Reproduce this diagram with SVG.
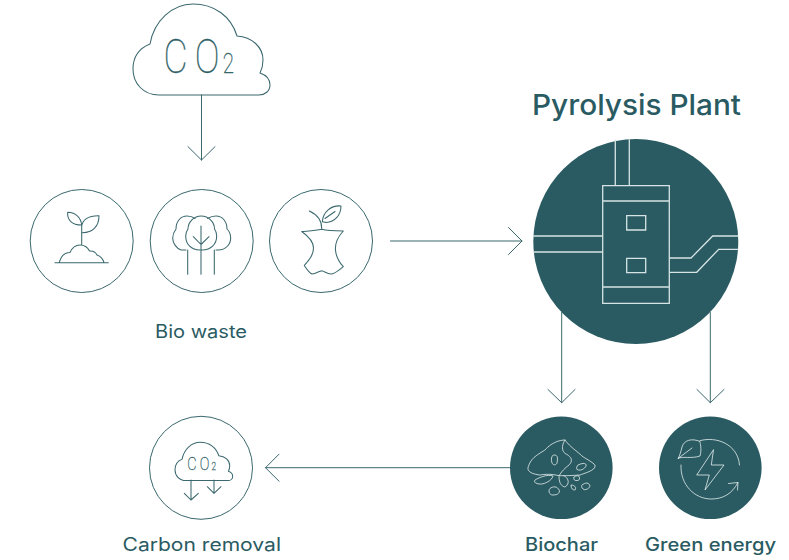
<svg xmlns="http://www.w3.org/2000/svg" xmlns:xlink="http://www.w3.org/1999/xlink" width="789" height="560" viewBox="0 0 789 560">
<style>
.l{fill:none;stroke:#3a686e;stroke-width:1;stroke-linecap:round;stroke-linejoin:round}
.ic{fill:none;stroke:#3a686e;stroke-width:1.050;stroke-linecap:round;stroke-linejoin:round}
.w{fill:none;stroke:#d6e4e5;stroke-width:1.3;stroke-linejoin:miter}
.t{fill:none;stroke:#e4eeee;stroke-width:.8;stroke-linecap:round;stroke-linejoin:round}
.ring{fill:#fff;stroke:#3a686e;stroke-width:1}
.dark{fill:#2a5b62}
.lab{font-family:"Inter","Noto Sans",sans-serif;fill:#2a5b62;text-anchor:start}
.co{font-family:"Roboto","Liberation Sans",sans-serif;font-weight:100;fill:#2f5f66;stroke:#2f5f66;stroke-width:.35}
</style>
<defs>
<path id="cloud" d="M159 95C143 95 133 83 133 69C133 56 140 48 150 44C154 21 172 4 193 4C214 4 231 16 237 36C252 37 263 47 263 60C263 65 262 69 260 73C266 75 270 79 270 85C270 91 265 95 259 95Z"/>
</defs>
<g id="connectors">
<path class="l" d="M201.500 95V160M188 146.700L201.500 160L215 146.700"/>
<path class="l" d="M390.500 241H522M508.500 227.500L522 241L508.500 254.500"/>
<path class="l" d="M561.700 312.500V402.700M548 389.500L561.700 402.700L575 389.500"/>
<path class="l" d="M710.300 312.500V402.700M697 389.500L710.300 402.700L724 389.500"/>
<path class="l" d="M510 467.700H265.500M279 454.200L265.500 467.700L279 481.200"/>
</g>
<g id="co2-source">
<use href="#cloud" class="ic"/>
<text class="co" transform="translate(163.500 73) scale(.76 1)" font-size="49" x="0 41">CO<tspan x="78" font-size="27">2</tspan></text>
</g>
<g id="bio-sprout">
<circle class="ring" cx="81.700" cy="241" r="51.500"/>
<path class="ic" d="M55 262.700H108.300M59.300 262.700C61 256 65 252.500 70 252.500C72 248 76 245 80 245C85 245 88 248 89.500 251C94 250.500 96 253 97 255C100 256 103 259 104 262.700M81.700 245V225C81 218 76 212.300 67.700 212.300C67 220 72 225 81.700 225M81.700 232.700C93 233 99 226 99 215.700C88 215.500 82 220 81.700 227"/>
</g>
<g id="bio-trees">
<circle class="ring" cx="201.700" cy="241" r="51.500"/>
<path class="ic" d="M201 226V274.300M187.700 250V274.300M214.300 250V274.300M193.300 236.700L201 244.500L209 236.700M201.200 250C191 250.500 185.700 244 185.700 236C185.700 233 186.500 231 188 229C188 222 194 216 201.200 216C208.500 216 214.500 222 214.500 229C216 231 216.700 233 216.700 236C216.700 244 211 250.500 201.200 250ZM186 250H181C176 248 172.700 243 172.700 238C172.700 233.500 174.500 231 176 229C176 221 181 216 187 216C190 216 193 217 195 218.500M207.500 218.500C210 217 213 216 216 216C222 216 227 221 227 229C229 231 230.700 234 230.700 238C230.700 244 226 250 218 250H216"/>
</g>
<g id="bio-apple">
<circle class="ring" cx="321" cy="241" r="51.500"/>
<path class="ic" d="M301.700 231.500C307 231 315 231 321.700 229.300C328 231 337 231 343.300 231C337 238 335 245 335.500 250C336 257 339 262 343.300 266.700C339 270 335 274 331 274C327 274 324 271 321.700 270.700C319 271 316 274 312 274C309 273 306 268 304.300 265.500C309 260 313.500 255 313.500 248C313.500 241 308 236 301.700 231.500ZM321.700 229.300C322 222 318 215 309.300 211M322.300 221.700C323 212 331 205 341 206C341 215 335 222 326 222.500C325 222 323.500 222 322.300 221.700ZM325 218.500L335 211.500"/>
</g>
<g id="pyrolysis-plant">
<circle class="dark" cx="635.800" cy="241.500" r="102.500"/>
<path class="w" d="M602.700 185.700H669.300V303.300H602.700ZM602.700 201H669.300M602.700 287H669.300M626.700 215.700H645.700V230H626.700ZM626.700 258.300H645.700V272.700H626.700ZM615.300 139.500V185.700M629.300 139.300V185.700M533.300 236H602.700M533.300 252H602.700M669.300 258H691L712.700 236H738.300M669.300 272.300H696.700L718.700 249.300H738.300"/>
<text class="lab" x="532" y="115" font-size="28" font-weight="500" textLength="209" lengthAdjust="spacingAndGlyphs">Pyrolysis Plant</text>
</g>
<g id="bio-waste-label">
<text class="lab" x="155" y="338" font-size="18" textLength="92" lengthAdjust="spacingAndGlyphs">Bio waste</text>
</g>
<g id="biochar">
<circle class="dark" cx="561.300" cy="467.800" r="51.300"/>
<path class="t" stroke-dasharray="5 .7" d="M528.300 466.700C531 458 537 455 545 450C550 444 558 440 565 440C570 447 577 451 582 456C586 459 591 461 595 465C596 470 588 472 580 475C572 475.500 565 476 558 475.500C552 474 546 474 540 475C534 474.500 526 472 528.300 466.700ZM565 440C561 446 562 452 566 454C572 457 573 461 569 465C565 468 561 472 559 476C559 483 561 486 565 487C570 484 569 478 563.500 475.500M553.300 455C558 454.500 558 458 557 463C556 466 553 465 552 463C551 460 551 457 553.300 455ZM578 465C582 463 587 462.500 586 466C584 470 579 471 577 469.500C576 468 577 466 578 465ZM535 480C540 477 548 474 553 476C552 480 547 483 542 484C538 484.500 533 483 535 480ZM550 488.500C553 486 558 486 559.500 491C559 495 555 495 552 495C549 494 548 491 550 488.500ZM574 477C577 475 580 475 579.500 479C579 481 576 480.500 575 480.500C574 480 573.500 478 574 477ZM571 485C574 485 577 487 575 490C573 490 571 489 571 485ZM582 485C585 482.500 589 482 590 486C589 489 586 490 584 489.500C582 488.500 581 487 582 485Z"/>
</g>
<g id="green-energy">
<circle class="dark" cx="710.300" cy="467.800" r="51.300"/>
<path class="t" d="M700 440.700C716 436 738 444 739.500 465M681 465C680 485 695 499 711 499C723 499 732 494 738 482.500M728.500 483.500L738 482.500L737.500 490M678.300 458.300C683 456 691 459 700 456C702 449 700 443 700 441.500C692 438 684 440 682 447C681 451 680 455 678.300 458.300ZM678.300 458.300L692 448M713.300 450L696.700 475H709.300L705 490L724 465H711.700Z"/>
</g>
<g id="carbon-removal">
<circle class="ring" cx="201" cy="467.800" r="51.500"/>
<use href="#cloud" class="ic" transform="translate(119 440.600) scale(.421)" style="stroke-width:2.400"/>
<path class="ic" d="M191 480V500M184.300 493.300L191 500L198.300 493.300M214 480V493.300M207.300 486.700L214 493.300L221 486.700"/>
<text class="co" transform="translate(187.300 470.300) scale(.76 1)" font-size="19" x="0 16.500">CO<tspan x="32" font-size="11">2</tspan></text>
</g>
<g id="labels">
<text class="lab" x="122.500" y="551" font-size="18" textLength="158.500" lengthAdjust="spacingAndGlyphs">Carbon removal</text>
<text class="lab" x="525" y="551" font-size="18" font-weight="500" textLength="73" lengthAdjust="spacingAndGlyphs">Biochar</text>
<text class="lab" x="645" y="551" font-size="18" font-weight="500" textLength="131" lengthAdjust="spacingAndGlyphs">Green energy</text>
</g>
</svg>
